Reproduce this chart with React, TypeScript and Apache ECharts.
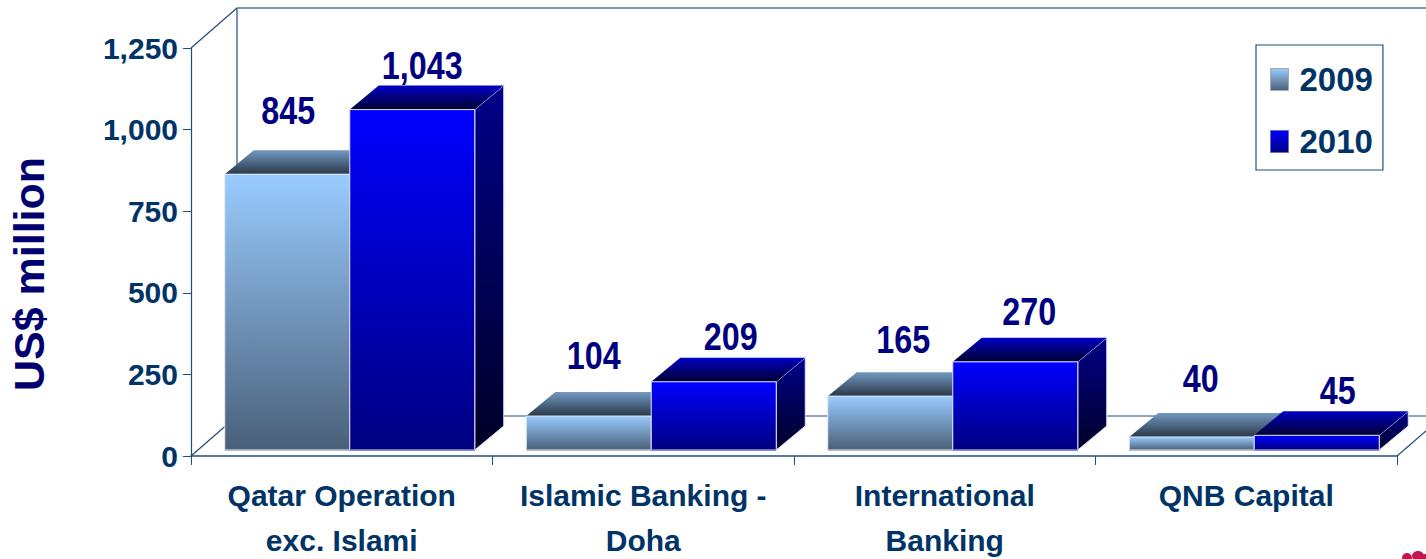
import React, { useEffect, useRef } from "react";
import * as echarts from "echarts";

const categories = ["Qatar Operation\nexc. Islami", "Islamic Banking -\nDoha", "International\nBanking", "QNB Capital"];
const seriesNames = ["2009", "2010"];
const values2009 = [845, 104, 165, 40];
const values2010 = [1043, 209, 270, 45];
const valueTicks = [0, 250, 500, 750, 1000, 1250];

const W = 1426, H = 559;
const LEFT = 191, RIGHT = 1397, TOP = 48, BASE = 456;
const SANS = '"Liberation Sans",Arial,sans-serif';
const NAVY = "#003366";
const LINE = "#1f4e7c";

const grad = (a: string, b: string) => new echarts.graphic.LinearGradient(0, 0, 0, 1, [
  { offset: 0, color: a }, { offset: 1, color: b },
]);

const styles = [
  {
    front: () => grad("#99ccff", "#4a5f78"), top: () => grad("#7299c2", "#2a3848"), side: () => grad("#5d7c9d", "#1d2833"),
    edge: "#e4ecf5", bottom: "#a3abb8",
    labelDx: [1, 5, 13, 9], labelDy: [-64, -61, -57, -58],
  },
  {
    front: () => grad("#0000ff", "#000080"), top: () => grad("#0000c4", "#000030"), side: () => grad("#000088", "#000028"),
    edge: "#dfe0ff", bottom: "#6a6ac0",
    labelDx: [10, 17, 14, 21], labelDy: [-44, -45, -50, -45],
  },
];

const DEPTH_X = 29, DEPTH_Y = 24, SHIFT_X = 8, SHIFT_Y = 6;

function renderBar(seriesIdx: number) {
  return (_p: any, api: any) => {
    const cat = api.value(0), val = api.value(1);
    const [cx, yTop] = api.coord([cat, val]);
    const [, yBase] = api.coord([cat, 0]);
    const bw = api.size([1, 0])[0] * 0.4146;
    const x0 = cx + SHIFT_X + (seriesIdx === 0 ? -bw : 0);
    const x1 = x0 + bw;
    const t = yTop - SHIFT_Y, b = yBase - SHIFT_Y;
    const s = styles[seriesIdx];
    const poly = (points: number[][], fill: any, stroke = s.edge) => ({
      type: "polygon", shape: { points }, style: { fill, stroke, lineWidth: 1 },
    });
    return {
      type: "group",
      children: [
        poly([[x1, t], [x1 + DEPTH_X, t - DEPTH_Y], [x1 + DEPTH_X, b - DEPTH_Y], [x1, b]], s.side()),
        poly([[x0, t], [x0 + DEPTH_X, t - DEPTH_Y], [x1 + DEPTH_X, t - DEPTH_Y], [x1, t]], s.top(), "none"),
        poly([[x0, t], [x1, t], [x1, b], [x0, b]], s.front()),
        { type: "line", shape: { x1: x0, y1: b, x2: x1, y2: b }, style: { stroke: s.bottom, lineWidth: 1.5 } },
        {
          type: "text",
          x: (x0 + x1) / 2 + s.labelDx[cat], y: t + s.labelDy[cat],
          scaleX: 0.85,
          style: {
            x: 0, y: 0,
            text: String(val).replace(/\B(?=(\d{3})+$)/g, ","),
            fill: "#000080", font: `bold 38px ${SANS}`, textAlign: "center", textVerticalAlign: "middle",
          },
        },
      ],
    };
  };
}

const frameLine = (x1: number, y1: number, x2: number, y2: number, stroke = LINE, lineWidth = 1.2) => ({
  type: "line", z: -1, shape: { x1, y1, x2, y2 }, style: { stroke, lineWidth },
});

const logoPetal = (cx: number, cy: number, rx: number, ry: number) => ({
  type: "ellipse", shape: { cx, cy, rx, ry }, style: { fill: "#c4164f" },
});

export default function App() {
  const ref = useRef<HTMLDivElement>(null);
  useEffect(() => {
    const chart = echarts.init(ref.current!, null, { renderer: "svg" });
    const legendColors = [grad("#99ccff", "#4a5f78"), grad("#0000ff", "#000080")];
    chart.setOption({
      animation: false,
      backgroundColor: "#ffffff",
      grid: { left: LEFT, right: W - RIGHT, top: TOP, bottom: H - BASE, containLabel: false, outerBoundsMode: "none" },
      legend: {
        orient: "vertical", left: 1256, top: 45, padding: [18, 10, 12, 14], itemGap: 29,
        itemWidth: 18, itemHeight: 22, borderColor: LINE, borderWidth: 1.2,
        textStyle: { color: NAVY, fontFamily: SANS, fontWeight: "bold", fontSize: 33, padding: [0, 0, 0, 6] },
        data: seriesNames.map((name, i) => ({ name, icon: "rect", itemStyle: { color: legendColors[i], borderColor: styles[i].bottom, borderWidth: 1 } })),
      },
      xAxis: {
        type: "category", data: categories, boundaryGap: true,
        axisLine: { lineStyle: { color: LINE, width: 1.5 } },
        axisTick: { show: true, length: 9, alignWithLabel: false, lineStyle: { color: LINE, width: 1 } },
        axisLabel: { color: NAVY, fontFamily: SANS, fontWeight: "bold", fontSize: 30, lineHeight: 45, margin: 17, interval: 0 },
      },
      yAxis: {
        type: "value", min: 0, max: valueTicks[valueTicks.length - 1], interval: 250,
        name: "US$ million", nameLocation: "middle", nameGap: 141, nameRotate: 90,
        nameTextStyle: { color: "#00006e", fontFamily: SANS, fontWeight: "bold", fontSize: 43, padding: [0, 44, 0, 0] },
        splitLine: { show: false },
        axisLine: { show: true, lineStyle: { color: LINE, width: 1.2 } },
        axisTick: { show: true, length: 8, lineStyle: { color: LINE, width: 1 } },
        axisLabel: { color: NAVY, fontFamily: SANS, fontWeight: "bold", fontSize: 30, margin: 13, padding: [0, 0, 4, 0] },
      },
      graphic: [
        frameLine(237, 8, 237, 416),
        frameLine(237, 416, W, 416),
        frameLine(237, 8, W, 8, "#7f98b5", 2),
        frameLine(LEFT, TOP, 237, 8),
        frameLine(LEFT, BASE, 237, 416),
        frameLine(RIGHT, BASE, W, 431),
        logoPetal(1407, 558, 5, 5),
        logoPetal(1418, 556, 6, 5),
        logoPetal(1425, 559, 4, 5),
      ],
      series: [values2009, values2010].map((vals, i) => ({
        type: "custom", name: seriesNames[i], coordinateSystem: "cartesian2d",
        renderItem: renderBar(i), encode: { x: 0, y: 1 }, clip: false,
        data: vals.map((v, c) => [c, v]),
      })),
    });
    return () => chart.dispose();
  }, []);
  return <div ref={ref} style={{ position: "fixed", left: 0, top: 0, width: W, height: H }} />;
}
